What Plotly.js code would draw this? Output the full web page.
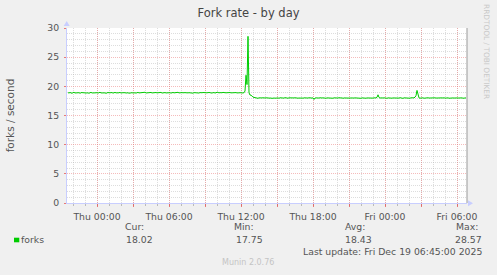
<!DOCTYPE html>
<html>
<head>
<meta charset="utf-8">
<script src="https://cdn.plot.ly/plotly-3.0.1.min.js"></script>
<style>
html,body{margin:0;padding:0;background:#F0F0F0;}
#chart{width:497px;height:275px;}
</style>
</head>
<body>
<div id="chart"></div>
<script>
// ---- data (5-minute samples, forks / second) ----
var seriesName = "forks";
var startTime = "2025-12-17 21:35:00";   // first sample
var stepMinutes = 5;
var forks = [
18.92,18.85,18.95,18.88,18.80,18.93,18.97,18.86,18.90,18.84,18.95,18.91,18.82,18.89,18.96,18.87,18.93,18.85,18.90,18.94,
18.88,18.81,18.92,18.97,18.86,18.90,18.83,18.95,18.89,18.92,18.84,18.91,18.98,18.87,18.90,18.85,18.93,18.88,18.80,18.92,
18.95,18.89,18.86,18.91,18.94,18.83,18.90,18.96,18.88,18.85,18.92,18.89,18.97,18.84,18.90,18.93,18.87,18.91,18.85,18.94,
18.90,18.82,18.88,18.95,18.91,18.86,18.93,18.89,18.84,18.92,18.96,18.87,18.90,18.85,18.93,18.88,18.91,18.98,18.86,18.90,
18.84,18.92,18.89,18.95,18.87,18.91,18.83,18.90,18.94,18.88,18.92,18.86,18.89,18.96,18.85,18.91,18.88,18.93,18.87,18.90,
18.93,18.86,18.91,18.84,18.90,18.95,18.88,18.92,18.85,18.90,18.97,18.87,18.91,18.86,18.93,18.89,18.84,18.92,18.90,18.95,
18.88,18.91,18.86,18.94,18.89,18.83,18.92,18.90,18.96,18.87,18.91,18.85,18.93,18.88,18.90,18.94,18.86,18.92,18.89,18.85,
18.91,18.95,18.87,18.90,18.84,18.93,18.89,18.91,18.86,19.02,18.94,18.88,18.92,18.85,18.90,18.96,18.87,18.91,18.89,18.93,
18.86,18.90,18.94,18.88,18.91,18.85,18.92,18.89,18.93,18.87,18.90,18.95,18.88,18.91,18.86,18.92,18.90,
19.20,21.90,20.30,28.57,18.90,18.50,18.50,18.30,18.15,18.10,18.05,
17.98,18.02,17.95,18.03,17.99,17.92,18.01,18.04,17.97,18.00,18.03,17.96,18.01,17.98,18.05,17.99,17.94,18.02,18.00,17.97,
18.03,17.99,18.01,17.95,18.04,18.00,17.97,18.02,17.98,18.06,17.99,18.01,17.96,18.03,18.00,17.98,18.02,17.93,18.01,18.04,
17.99,18.02,17.97,18.00,18.05,17.98,18.01,17.95,18.03,18.00,17.97,18.02,17.99,18.04,17.96,18.01,17.98,18.03,17.75,18.00,
18.02,17.97,18.01,17.99,18.04,17.96,18.00,18.03,17.98,18.01,17.95,18.02,18.00,17.97,18.04,17.99,18.01,17.96,18.03,18.00,
17.98,18.02,17.99,18.05,17.97,18.00,18.03,17.94,18.01,17.99,18.02,17.97,18.04,18.00,17.98,18.01,17.96,18.03,17.99,18.02,
18.00,17.97,18.04,17.99,18.01,17.95,18.02,17.98,18.03,18.00,17.96,18.01,17.99,18.04,17.97,18.02,18.00,17.98,18.03,17.99,
18.01,18.12,18.55,18.10,17.98,18.02,17.96,18.00,18.03,17.99,18.01,17.95,18.02,17.98,18.04,18.00,17.97,18.01,17.99,18.03,
17.96,18.00,18.02,17.98,18.05,17.99,18.01,17.94,18.03,18.00,17.97,18.02,17.99,18.01,17.96,18.04,18.00,17.98,18.02,18.15,
18.40,19.30,18.30,18.02,17.97,18.01,17.99,18.03,17.96,18.00,18.02,17.98,18.04,17.99,18.01,17.95,18.02,18.00,17.97,18.03,
17.99,18.01,17.96,18.04,18.00,17.98,18.02,17.99,18.05,17.97,18.01,17.99,18.03,17.96,18.00,18.02,17.98,18.01,17.99,18.04,
17.97,18.01,17.99,18.03,17.98,18.00,18.02,17.96,18.01,18.00,18.02
];
var xRange = ["2025-12-17 21:30:00", "2025-12-19 06:50:00"];
var tickVals = ["2025-12-18 00:00","2025-12-18 03:00","2025-12-18 06:00","2025-12-18 09:00",
                "2025-12-18 12:00","2025-12-18 15:00","2025-12-18 18:00","2025-12-18 21:00",
                "2025-12-19 00:00","2025-12-19 03:00","2025-12-19 06:00"];
var tickText = ["Thu 00:00","","Thu 06:00","","Thu 12:00","","Thu 18:00","","Fri 00:00","","Fri 06:00"];
var statLabels = ["Cur:","Min:","Avg:","Max:"];
var statValues = ["18.02","17.75","18.43","28.57"];
var lastUpdate = "Last update: Fri Dec 19 06:45:00 2025";
var chartTitle = "Fork rate - by day";
var yTitle = "forks / second";

// ---- build times from start + step ----
function fmt(d){
  function p(n){return (n<10?"0":"")+n;}
  return d.getUTCFullYear()+"-"+p(d.getUTCMonth()+1)+"-"+p(d.getUTCDate())+" "+p(d.getUTCHours())+":"+p(d.getUTCMinutes())+":00";
}
var t0 = Date.parse(startTime.replace(" ","T")+"Z");
var times = forks.map(function(_,i){ return fmt(new Date(t0 + i*stepMinutes*60000)); });

// ---- pixel helpers (plot area: x 67..467, y 28..203) ----
var L=67, T=28, W=400, H=175;
function PX(x){ return (x-L)/W; }
function PY(y){ return (T+H-y)/H; }

var FONT = "DejaVu Sans, sans-serif";
var TXT = "#555555";
var ann = [];
function addText(text,x,y,xa,opts){
  opts = opts||{};
  ann.push({text:text, xref:"paper", yref:"paper", x:PX(x), y:PY(y), xanchor:xa, yanchor:"middle",
    showarrow:false, font:{family:FONT, size:opts.size||9.3, color:opts.color||TXT},
    textangle:opts.angle||0, borderpad:0});
}
var colX = [124,233,344,455];
var valX = [125,235,344,453.5];
for (var k=0;k<4;k++){
  addText(statLabels[k], colX[k], 226.7, "left");
  addText(statValues[k], valX[k], 239.5, "left");
}
addText(seriesName, 20, 239.5, "left");
addText(lastUpdate, 482.5, 251.3, "right");
addText("Munin 2.0.76", 248, 262.5, "center", {size:8, color:"#c4c4c4"});
addText("RRDTOOL / TOBI OETIKER", 487, 51, "center", {size:7.4, color:"#c8c8c8", angle:90});

var shapes = [
  {type:"line", xref:"paper", yref:"paper", x0:1, x1:1, y0:0, y1:1, line:{color:"#999999", width:1}},
  {type:"path", xref:"paper", yref:"paper",
   path:"M "+PX(63.7)+" "+PY(26)+" L "+PX(69.7)+" "+PY(26)+" L "+PX(66.7)+" "+PY(21)+" Z",
   fillcolor:"#c8ceff", line:{width:0}},
  {type:"path", xref:"paper", yref:"paper",
   path:"M "+PX(468)+" "+PY(200.3)+" L "+PX(468)+" "+PY(206.3)+" L "+PX(473)+" "+PY(203.3)+" Z",
   fillcolor:"#c8ceff", line:{width:0}},
  {type:"rect", xref:"paper", yref:"paper", x0:PX(14), x1:PX(19.3), y0:PY(242.3), y1:PY(237.7),
   fillcolor:"#00CC00", line:{width:0}}
];

var trace = {x:times, y:forks, type:"scatter", mode:"lines", name:seriesName,
  line:{color:"#00CC00", width:1}, hoverinfo:"x+y"};

var layout = {
  width:497, height:275,
  margin:{l:L, r:497-L-W, t:T, b:275-T-H, pad:0},
  paper_bgcolor:"#F0F0F0", plot_bgcolor:"#FFFFFF",
  showlegend:false,
  title:{text:chartTitle, font:{family:FONT, size:11.5, color:"#444444"}, x:0.5, xanchor:"center", y:1-13/275, yanchor:"middle"},
  xaxis:{type:"date", range:xRange, tickmode:"array", tickvals:tickVals, ticktext:tickText,
    showgrid:true, gridcolor:"rgba(235,120,120,0.5)", griddash:"1px,1px", gridwidth:1,
    ticks:"outside", ticklen:3, tickcolor:"rgba(230,90,90,0.8)", tickwidth:1,
    showline:true, linecolor:"#c8ceff", linewidth:1, zeroline:false,
    tickfont:{family:FONT, size:9.3, color:TXT}, ticklabelstandoff:2,
    minor:{tickmode:"linear", tick0:"2025-12-18 00:00", dtick:3600000, showgrid:true,
      gridcolor:"rgba(165,165,165,0.38)", griddash:"1px,1px", gridwidth:1,
      ticks:"outside", ticklen:2, tickcolor:"rgba(150,150,150,0.6)"},
    fixedrange:true},
  yaxis:{range:[0,30], tickmode:"linear", tick0:0, dtick:5,
    showgrid:true, gridcolor:"rgba(235,120,120,0.5)", griddash:"1px,1px", gridwidth:1,
    ticks:"outside", ticklen:2, tickcolor:"rgba(230,90,90,0.8)",
    showline:true, linecolor:"#c8ceff", linewidth:1, zeroline:false,
    tickfont:{family:FONT, size:9.3, color:TXT}, ticklabelstandoff:3,
    title:{text:yTitle, font:{family:FONT, size:10.5, color:TXT}, standoff:30},
    minor:{tickmode:"linear", tick0:0, dtick:1, showgrid:true,
      gridcolor:"rgba(165,165,165,0.38)", griddash:"1px,1px", gridwidth:1},
    fixedrange:true},
  annotations:ann,
  shapes:shapes
};

Plotly.newPlot("chart", [trace], layout, {displayModeBar:false, staticPlot:true});
</script>
</body>
</html>
